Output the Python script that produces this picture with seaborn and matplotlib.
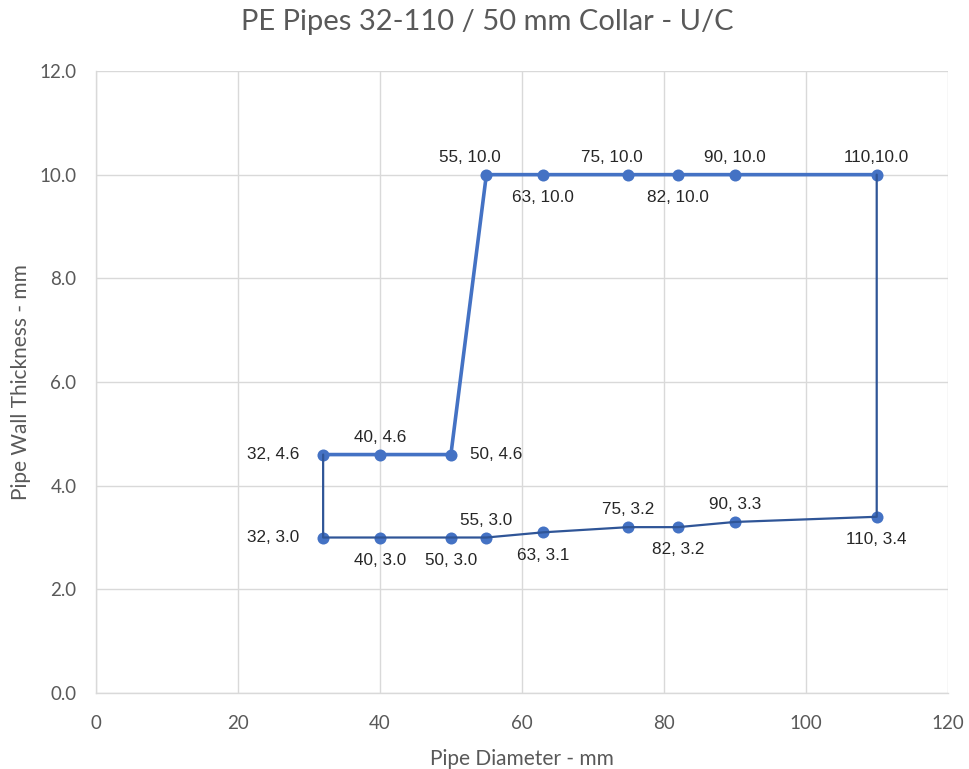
import matplotlib
matplotlib.use("Agg")
import matplotlib.pyplot as plt
import seaborn as sns
import pandas as pd

# Upper envelope: wall thickness by pipe diameter
upper_d = [32, 40, 50, 55, 63, 75, 82, 90, 110]
upper_t = [4.6, 4.6, 4.6, 10.0, 10.0, 10.0, 10.0, 10.0, 10.0]
upper_pos = ["left", "above", "right", "above-left", "below", "above-left", "below", "above", "above"]

# Lower envelope
lower_d = [32, 40, 50, 55, 63, 75, 82, 90, 110]
lower_t = [3.0, 3.0, 3.0, 3.0, 3.1, 3.2, 3.2, 3.3, 3.4]
lower_pos = ["left", "below", "below", "above", "below", "above", "below", "above", "below"]

title = "PE Pipes 32-110 / 50 mm Collar - U/C"
x_label = "Pipe Diameter - mm"
y_label = "Pipe Wall Thickness - mm"
x_ticks = [0, 20, 40, 60, 80, 100, 120]
y_ticks = [0.0, 2.0, 4.0, 6.0, 8.0, 10.0, 12.0]

LIGHT = "#4472C4"
DARK = "#2F5597"
GRID = "#D9D9D9"
TEXT = "#595959"

sns.set_theme(style="white")
plt.rcParams["font.family"] = ["Lato", "DejaVu Sans"]

fig = plt.figure(figsize=(9.7, 7.69), dpi=100)
ax = fig.add_axes([0.099, 0.0988, 0.878, 0.8089])

upper = pd.DataFrame({"d": upper_d, "t": upper_t})
lower = pd.DataFrame({"d": lower_d, "t": lower_t})
# Closed outline: lower curve joined to the upper curve at both ends
outline = pd.concat([upper.iloc[[0]], lower, upper.iloc[[-1]]], ignore_index=True)

sns.lineplot(data=upper, x="d", y="t", sort=False, estimator=None, ax=ax,
             color=LIGHT, linewidth=2.6, zorder=3)
sns.scatterplot(data=upper, x="d", y="t", ax=ax, color=LIGHT, s=75,
                edgecolor=LIGHT, linewidth=0, zorder=4)
sns.scatterplot(data=lower, x="d", y="t", ax=ax, color=LIGHT, s=75,
                edgecolor=LIGHT, linewidth=0, zorder=4)
sns.lineplot(data=outline, x="d", y="t", sort=False, estimator=None, ax=ax,
             color=DARK, linewidth=1.6, zorder=5)


def label_text(d, t):
    sep = "," if t >= 10 and d >= 100 else ", "
    return f"{d}{sep}{t:.1f}"


offsets = {"above": (0, 7, "center", "bottom"),
           "above-left": (-12, 7, "center", "bottom"),
           "below": (0, -11, "center", "top"),
           "left": (-17, 0, "right", "center"),
           "right": (14, 0, "left", "center")}

for ds, ts, ps in [(upper_d, upper_t, upper_pos), (lower_d, lower_t, lower_pos)]:
    for d, t, p in zip(ds, ts, ps):
        dx, dy, ha, va = offsets[p]
        ax.annotate(label_text(d, t), (d, t), xytext=(dx, dy),
                    textcoords="offset points", ha=ha, va=va,
                    fontsize=12.3, color="#262626",
                    family=["Liberation Sans", "DejaVu Sans"], zorder=6)

ax.set_xlim(0, 120)
ax.set_ylim(0, 12)
ax.set_xticks(x_ticks)
ax.set_yticks(y_ticks)
ax.set_xticklabels([str(v) for v in x_ticks])
ax.set_yticklabels([f"{v:.1f}" for v in y_ticks])
ax.tick_params(axis="both", length=0, labelsize=13.5, labelcolor=TEXT)
ax.tick_params(axis="x", pad=16)
ax.tick_params(axis="y", pad=14)
ax.grid(True, color=GRID, linewidth=1)
for side in ["top", "right"]:
    ax.spines[side].set_visible(False)
for side in ["left", "bottom"]:
    ax.spines[side].set_color(GRID)
    ax.spines[side].set_linewidth(1)

ax.set_xlabel(x_label, fontsize=15, color=TEXT, labelpad=12)
ax.set_ylabel(y_label, fontsize=15, color=TEXT, labelpad=6)
fig.text(0.502, 0.971, title, ha="center", va="center", fontsize=21, color=TEXT)

fig.savefig("out.png", dpi=100, facecolor="white")
